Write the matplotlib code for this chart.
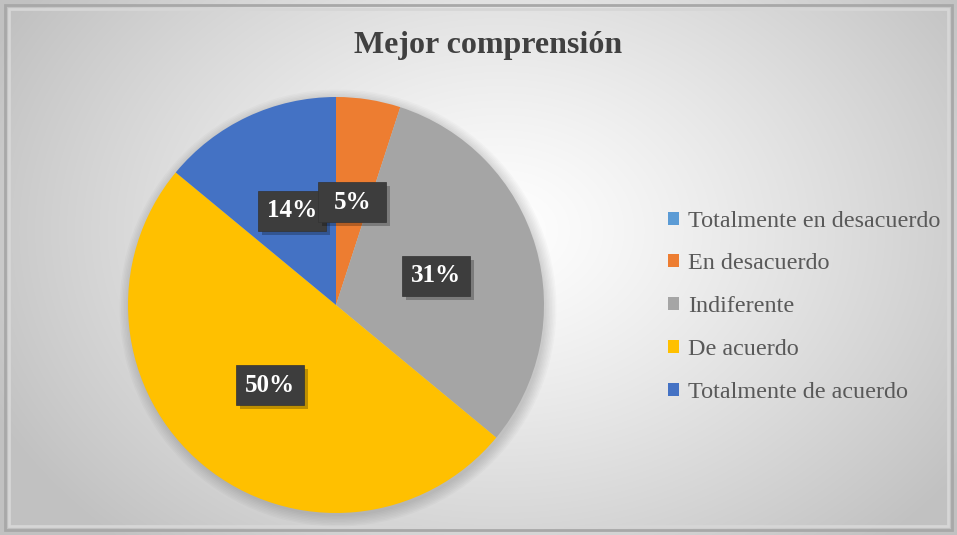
import numpy as np
import matplotlib
matplotlib.use("Agg")
import matplotlib.pyplot as plt
from matplotlib.patches import Patch, Rectangle

# data
title = "Mejor comprensión"
categorias = ["Totalmente en desacuerdo", "En desacuerdo", "Indiferente",
              "De acuerdo", "Totalmente de acuerdo"]
porcentajes = [0, 5, 31, 50, 14]
colores = ["#5B9BD5", "#ED7D31", "#A5A5A5", "#FFC000", "#4472C4"]

W, H = 957, 535
fig = plt.figure(figsize=(W / 100, H / 100), dpi=100)

# background: soft radial gradient like the excel chart style
bg = fig.add_axes([0, 0, 1, 1])
yy, xx = np.mgrid[0:H, 0:W]
d = np.sqrt(((xx - 500) / 560.0) ** 2 + ((yy - 230) / 420.0) ** 2)
val = 1.0 - 0.24 * np.clip(d, 0, 1) ** 1.2
img = np.dstack([val, val, val])
bg.imshow(img, extent=[0, W, H, 0], aspect="auto")
bg.set_xlim(0, W)
bg.set_ylim(H, 0)
bg.axis("off")
# bevel frame
bg.add_patch(Rectangle((5, 5), W - 10, H - 10, fill=False, ec="#a8a8a8", lw=2))
bg.add_patch(Rectangle((9, 9), W - 18, H - 18, fill=False, ec="#d6d6d6", lw=2))
# soft shadow around the pie
for k in range(8):
    bg.add_patch(plt.Circle((338, 308), 208 + k * 1.5, color="#000000",
                            alpha=0.018, lw=0))

fig.text(0.5 * (355 + 622) / W, 1 - 45 / H, title, ha="center", va="center",
         fontsize=23, fontweight="bold", family="Liberation Serif", color="#404040")

# pie
R = 208
cx, cy = 336, 305
ax = fig.add_axes([(cx - R) / W, (H - cy - R) / H, 2 * R / W, 2 * R / H])
wedges, texts, autotexts = ax.pie(
    porcentajes, colors=colores, startangle=90, counterclock=False,
    autopct=lambda p: f"{p:.0f}%" if p > 0.5 else "", pctdistance=0.5,
    wedgeprops=dict(lw=0))
ax.set_xlim(-1, 1)
ax.set_ylim(-1, 1)
ax.set_aspect("equal")

# dark label boxes with a small shadow (later slices go underneath, like excel)
bw, bh = 68, 40
n = len(autotexts)
for i, t in enumerate(autotexts):
    if not t.get_text():
        continue
    z = 3 + 3 * (n - i)
    px, py = ax.transData.transform(t.get_position())
    ax.add_patch(Rectangle(((px - bw / 2 + 4) / W, (py - bh / 2 - 4) / H), bw / W, bh / H,
                           transform=fig.transFigure, fc="#000000", alpha=0.25, lw=0,
                           zorder=z))
    ax.add_patch(Rectangle(((px - bw / 2) / W, (py - bh / 2) / H), bw / W, bh / H,
                           transform=fig.transFigure, fc="#3d3d3d", ec="#333333", lw=0.5,
                           zorder=z + 1))
    t.set_zorder(z + 2)
    t.set_fontsize(18)
    t.set_fontweight("bold")
    t.set_family("Liberation Serif")
    t.set_color("white")

handles = [Patch(facecolor=c, edgecolor="none") for c in colores]
fig.legend(handles, categorias, loc="upper left", bbox_to_anchor=(658 / W, 1 - 201 / H),
           frameon=False, prop=dict(family="Liberation Serif", size=17.4),
           labelcolor="#595959", handlelength=0.45, handleheight=0.45,
           handletextpad=0.4, labelspacing=0.9, borderaxespad=0)

fig.savefig("out.png", dpi=100)
